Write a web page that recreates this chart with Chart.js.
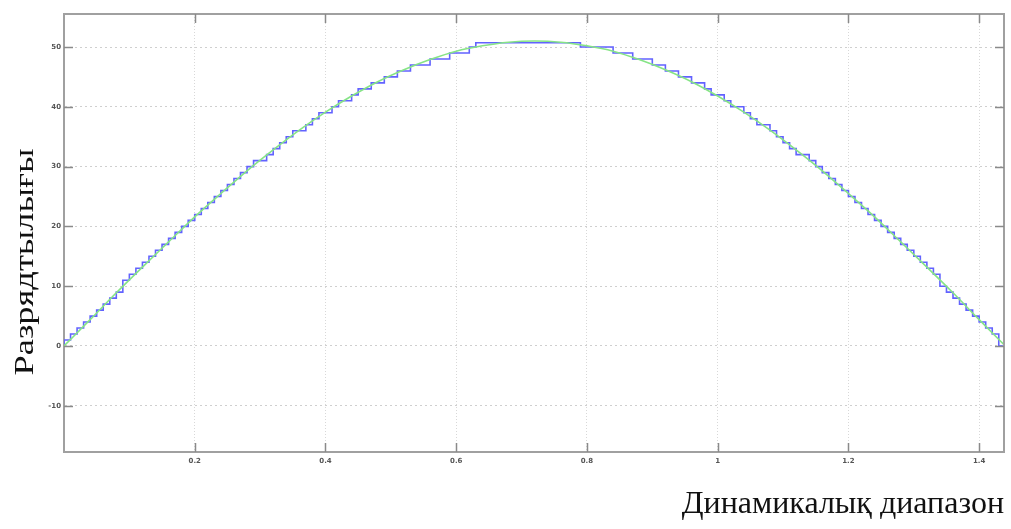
<!DOCTYPE html>
<html>
<head>
<meta charset="utf-8">
<script src="https://cdn.jsdelivr.net/npm/chart.js@4.4.1/dist/chart.umd.min.js"></script>
<style>
    html, body { margin: 0; padding: 0; background: #ffffff; }
    #wrap { width: 1011px; height: 529px; position: relative; }
</style>
</head>
<body>
<div id="wrap"><canvas id="chart"></canvas></div>
<script>
// axis texts
const xTitle = "Динамикалық диапазон";
const yTitle = "Разрядтылығы";
const yTicks = [50, 40, 30, 20, 10, 0, -10];
const xTicks = [0.2, 0.4, 0.6, 0.8, 1, 1.2, 1.4];

// smooth (green) curve, read every 0.04
const greenStep = 0.04;
const greenValues = [
    0, 4.4, 8.9, 13.2, 17.4, 21.6, 25.5, 29.3, 32.8, 36.1,
    39.1, 41.8, 44.2, 46.2, 47.9, 49.3, 50.2, 50.8, 51.0, 50.8,
    50.2, 49.3, 47.9, 46.2, 44.2, 41.8, 39.1, 36.1, 32.8, 29.3,
    25.5, 21.6, 17.4, 13.2, 8.9, 4.4, 0
];

// quantized (blue) staircase, held every 0.01
const blueStep = 0.01;
const blueValues = [
    0, 1, 2, 3, 4, 5, 6, 7, 8, 9,
    11, 12, 13, 14, 15, 16, 17, 18, 19, 20,
    21, 22, 23, 24, 25, 26, 27, 28, 29, 30,
    31, 31, 32, 33, 34, 35, 36, 36, 37, 38,
    39, 39, 40, 41, 41, 42, 43, 43, 44, 44,
    45, 45, 46, 46, 47, 47, 47, 48, 48, 48,
    49, 49, 49, 50,
    50.7, 50.7, 50.7, 50.7, 50.7, 50.7, 50.7, 50.7,
    50.7, 50.7, 50.7, 50.7, 50.7, 50.7, 50.7, 50.7,
    50, 50, 50, 50, 50, 49, 49, 49, 48, 48,
    48, 47, 47, 46, 46, 45, 45, 44, 44, 43,
    42, 42, 41, 40, 40, 39, 38, 37, 37, 36,
    35, 34, 33, 32, 32, 31, 30, 29, 28, 27,
    26, 25, 24, 23, 22, 21, 20, 19, 18, 17,
    16, 15, 14, 13, 12, 10, 9, 8, 7, 6,
    5, 4, 3, 2, 0
];

const greenPoints = greenValues.map((v, i) => ({ x: +(i * greenStep).toFixed(2), y: v }));
const bluePoints = blueValues.map((v, i) => ({ x: +(i * blueStep).toFixed(2), y: v }));

const ctx = document.getElementById("chart").getContext("2d");

// frame on top/right + inward tick marks, and the rotated y title
const framePlugin = {
    id: "frame",
    afterDraw(chart) {
        const { ctx, chartArea: a, scales } = chart;
        ctx.save();
        ctx.strokeStyle = "#a0a0a0";
        ctx.lineWidth = 2;
        ctx.beginPath();
        ctx.moveTo(a.left, a.top);
        ctx.lineTo(a.right, a.top);
        ctx.lineTo(a.right, a.bottom);
        ctx.stroke();

        ctx.strokeStyle = "#8a8a8a";
        ctx.lineWidth = 1.5;
        ctx.beginPath();
        yTicks.forEach(t => {
            const y = Math.round(scales.y.getPixelForValue(t)) + 0.5;
            ctx.moveTo(a.left, y); ctx.lineTo(a.left + 9, y);
            ctx.moveTo(a.right, y); ctx.lineTo(a.right - 9, y);
        });
        xTicks.forEach(t => {
            const x = Math.round(scales.x.getPixelForValue(t)) + 0.5;
            ctx.moveTo(x, a.bottom); ctx.lineTo(x, a.bottom - 9);
            ctx.moveTo(x, a.top); ctx.lineTo(x, a.top + 9);
        });
        ctx.stroke();

        // y title
        ctx.fillStyle = "#111";
        ctx.font = '28px "Liberation Serif"';
        ctx.textAlign = "center";
        ctx.textBaseline = "middle";
        const w = ctx.measureText(yTitle).width;
        ctx.translate(26, 262);
        ctx.rotate(-Math.PI / 2);
        ctx.scale(227 / w, 1);
        ctx.fillText(yTitle, 0, 0);
        ctx.restore();
    }
};

new Chart(ctx, {
    type: "line",
    data: {
        datasets: [
            {
                data: greenPoints,
                borderColor: "#86e486",
                borderWidth: 1.6,
                pointRadius: 0,
                tension: 0.4,
                cubicInterpolationMode: "monotone"
            },
            {
                data: bluePoints,
                borderColor: "#6262ff",
                borderWidth: 1.6,
                pointRadius: 0,
                stepped: "after"
            }
        ]
    },
    options: {
        responsive: true,
        maintainAspectRatio: false,
        animation: false,
        events: [],
        layout: { padding: { top: 14, right: 7, left: 0, bottom: 0 } },
        plugins: {
            legend: { display: false },
            tooltip: { enabled: false }
        },
        scales: {
            x: {
                type: "linear",
                min: 0,
                max: 1.438,
                afterFit: (scale) => { scale.height = 77; },
                afterBuildTicks: (scale) => { scale.ticks = xTicks.map(v => ({ value: v })); },
                ticks: {
                    font: { family: "DejaVu Sans", size: 7, weight: "bold" },
                    color: "#555",
                    padding: 5,
                    maxRotation: 0,
                    callback: (v) => String(v)
                },
                grid: {
                    color: "#d8d8d8",
                    lineWidth: 1,
                    drawTicks: false
                },
                border: { color: "#a0a0a0", width: 2, dash: [1, 2] },
                title: {
                    display: true,
                    text: xTitle,
                    align: "end",
                    color: "#111",
                    font: { family: "Liberation Serif", size: 32 },
                    padding: { top: 0, bottom: 5 }
                }
            },
            y: {
                type: "linear",
                min: -17.73,
                max: 55.52,
                afterFit: (scale) => { scale.width = 64; },
                afterBuildTicks: (scale) => { scale.ticks = yTicks.map(v => ({ value: v })); },
                ticks: {
                    font: { family: "DejaVu Sans", size: 7, weight: "bold" },
                    color: "#555",
                    padding: 3,
                    callback: (v) => String(v)
                },
                grid: {
                    color: "#cfcfcf",
                    lineWidth: 1,
                    drawTicks: false
                },
                border: { color: "#a0a0a0", width: 2, dash: [2, 3] }
            }
        }
    },
    plugins: [framePlugin]
});
</script>
</body>
</html>
